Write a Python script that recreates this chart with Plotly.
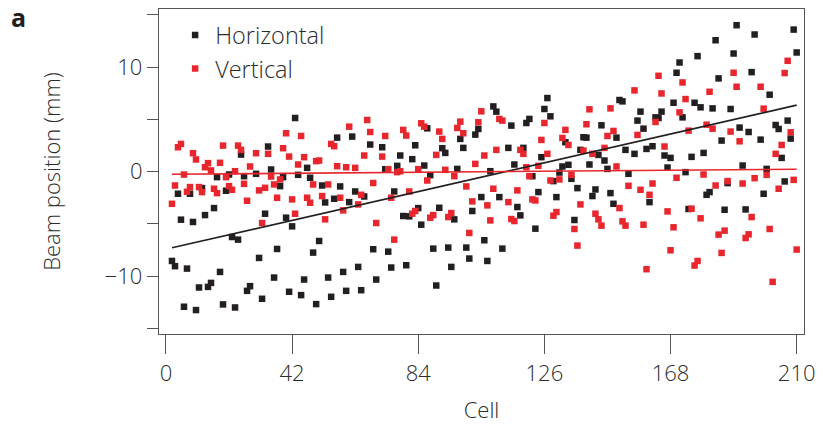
import plotly.graph_objects as go

# Horizontal beam position per cell (mm)
h_cell = [2, 3, 4, 5, 6, 7, 8, 9, 10, 11, 12, 13, 14, 15, 16, 17, 18, 19, 20, 21, 22, 23, 24, 25, 26, 27, 28,
          30, 31, 32, 33, 34, 35, 36, 37, 38, 39, 40, 41, 42, 43, 44, 45, 46, 47, 48, 49, 50, 51, 52, 53, 54,
          55, 56, 57, 58, 59, 60, 61, 62, 63, 64, 65, 66, 68, 69, 70, 72, 73, 74, 75, 76, 77, 78, 79, 80, 81,
          82, 83, 84, 85, 86, 87, 88, 89, 90, 91, 92, 93, 94, 95, 96, 97, 98, 99, 100, 101, 102, 103, 104, 105,
          106, 107, 108, 109, 110, 111, 112, 114, 115, 116, 117, 118, 119, 120, 121, 122, 123, 124, 125, 126,
          127, 128, 129, 130, 131, 132, 133, 134, 135, 136, 137, 138, 139, 140, 141, 142, 143, 144, 145, 146,
          147, 148, 149, 150, 151, 152, 153, 154, 156, 157, 158, 159, 160, 161, 162, 163, 164, 165, 166, 167,
          168, 169, 170, 171, 172, 173, 174, 175, 176, 177, 178, 179, 180, 181, 182, 183, 184, 185, 186, 187,
          188, 189, 190, 191, 192, 193, 194, 195, 196, 198, 199, 200, 201, 203, 204, 205, 206, 207, 208, 209, 210]
h_pos = [-8.56, -9.06, -2.13, -4.61, -12.94, -9.29, -2.13, -4.83, -13.26, -11.10, -1.59, -4.17, -11.04, -10.66,
         -3.50, -0.54, -9.61, -12.72, -1.84, -0.29, -6.27, -13.01, -6.52, 1.62, -0.45, -11.42, -10.97,
         -0.22, -8.27, -12.18, -4.04, 2.39, 0.19, -10.15, -7.41, -1.40, -0.54, -4.42, -11.51, -5.25, 5.12,
         -0.32, -11.83, -10.34, 0.35, -0.60, -7.76, -12.69, -6.65, -1.34, -2.96, -10.15, -11.99, -2.61, 3.24,
         -1.43, -9.61, -11.42, -2.93, 3.34, -1.91, -9.13, -11.36, -2.39, 2.58, -7.44, -10.34, 2.32, 0.22,
         -7.67, -9.19, -1.91, 0.54, 1.53, -4.26, -8.97, -4.29, 1.18, 2.51, -3.50, -5.09, 0.57, 4.13, -0.35,
         -7.38, -10.91, -3.47, 2.23, 1.78, -7.28, -9.13, -4.58, 0.25, 3.12, 2.26, -7.28, -8.33, -3.78, 3.53,
         4.07, -2.45, -6.58, -8.56, 0.03, 6.23, 5.73, -2.45, -7.38, 2.26, 4.39, 0.67, -3.40, -4.20, 2.26,
         4.64, 5.03, -0.45, -5.47, -1.97, 1.37, 5.98, 7.03, 5.28, -0.92, -2.45, -0.10, 0.48, 2.80, 0.64,
         -0.70, -4.64, -1.59, 2.07, 3.28, 3.24, 0.67, -2.35, -1.72, 1.59, 4.42, 1.05, 0.25, -2.07, -3.09,
         3.24, 6.84, 6.71, 2.07, -0.22, 1.69, 4.87, 5.73, 4.10, 2.16, -2.93, 2.42, 5.18, 5.12, 5.73, 1.53,
         0.38, 1.30, 6.58, 9.45, 10.43, 5.18, -0.06, -3.59, 1.40, 6.58, 11.04, 6.14, 1.78, -2.23, -1.97,
         6.04, 12.56, 8.91, 2.96, -3.66, -1.11, 5.98, 11.29, 14.00, 4.20, 0.57, -3.63, 3.78, 9.51, 13.11,
         3.05, -2.13, 0.25, 7.35, 4.45, 4.07, 1.30, -0.95, 4.87, 3.15, 13.58, 11.39]

# Vertical beam position per cell (mm)
v_cell = [2, 3, 4, 5, 6, 7, 8, 9, 10, 11, 12, 13, 14, 15, 16, 17, 18, 19, 20, 21, 22, 23, 24, 25, 26, 27, 28,
          30, 31, 32, 33, 34, 35, 36, 37, 38, 39, 40, 41, 42, 43, 44, 45, 46, 47, 48, 49, 50, 51, 52, 53, 54,
          55, 56, 57, 58, 59, 60, 61, 63, 64, 65, 66, 67, 68, 69, 70, 72, 73, 74, 75, 76, 77, 78, 79, 80, 81,
          82, 83, 84, 85, 86, 87, 88, 89, 90, 91, 92, 93, 94, 95, 96, 97, 98, 99, 100, 101, 102, 103, 104,
          105, 106, 107, 108, 109, 110, 111, 112, 114, 115, 116, 117, 118, 119, 120, 121, 122, 123, 124, 125,
          126, 127, 128, 129, 130, 131, 132, 133, 134, 135, 136, 137, 138, 139, 140, 141, 142, 143, 144, 145,
          146, 147, 148, 149, 150, 151, 152, 153, 154, 156, 157, 158, 159, 160, 161, 162, 163, 164, 165, 166,
          167, 168, 169, 170, 171, 172, 173, 174, 175, 176, 177, 178, 179, 180, 181, 182, 183, 184, 185, 186,
          187, 188, 189, 190, 191, 192, 193, 194, 195, 196, 198, 199, 200, 201, 202, 203, 204, 205, 206, 207,
          208, 209, 210]
v_pos = [-3.09, -1.34, 2.32, 2.64, -0.29, -1.94, -1.49, 1.75, 1.15, -1.49, -1.97, 0.41, 0.80, 0.10, -1.65,
         -2.07, 0.83, 2.48, -0.54, -1.40, -1.75, 0.03, 2.48, 2.07, -1.18, -2.80, 0.48,
         1.75, -1.81, -4.93, -1.56, 1.69, -0.48, -1.24, -2.51, -0.76, 2.23, 3.66, 1.43, -2.67, -4.04, 0.67,
         3.40, 1.37, -2.51, -2.99, -1.24, 0.99, 1.05, -2.35, -4.58, -1.24, 2.64, 2.42, 0.51, -2.51, -3.72,
         0.41, 4.29, 0.35, -3.15, -2.23, 1.53, 4.93, 3.78, -1.10, -4.93, 1.43, 3.40, 0.22, -2.51, -6.52,
         -0.06, 0.03, 3.98, 3.44, -1.91, -4.04, -3.78, 0.22, 4.61, 4.29, -0.86, -4.42, -4.17, 1.59, 3.82,
         3.12, 0.16, -4.36, -3.98, -0.45, 4.17, 4.77, 3.66, -1.43, -5.88, -2.86, 0.73, 4.71, 5.76, 1.53,
         -3.24, -4.68, -1.65, 2.07, 5.03, 4.87, -2.93, -4.55, -4.74, -1.81, 2.07, 1.69, 0.41, -0.45, -2.67,
         -2.77, 0.54, 3.02, 4.64, 1.69, -0.86, -4.23, -3.88, -0.76, 3.21, 3.98, 2.54, -0.32, -5.50, -7.09,
         -3.15, 2.00, 4.52, 5.95, 1.69, -4.04, -4.58, -5.18, 2.26, 3.40, 6.04, 3.88, 0.48, -3.50, -4.77,
         -5.18, -1.37, 7.76, 3.50, -1.75, -5.09, -9.35, -2.23, -1.15, 4.74, 9.16, 7.47, 2.39, -3.82, -7.54,
         -5.34, -0.60, 5.66, 8.52, 6.93, 3.91, -3.56, -9.00, -8.56, -4.48, -0.29, 4.48, 7.63, 4.10, -1.34,
         -6.04, -7.79, -5.66, -0.92, 3.82, 9.45, 8.11, 2.89, -1.15, -6.36, -6.01, -4.36, -0.64, 8.11, 6.01,
         -0.32, -5.50, -10.56, 1.69, -1.65, 2.54, 9.42, 10.59, 3.75, -0.80, -7.47]

# Linear fits (end points over the fitted cell span)
fit_cell = [2, 210]
h_fit = [-7.3, 6.35]
v_fit = [-0.27, 0.22]

x_ticks = [0, 42, 84, 126, 168, 210]
y_ticks = [-15, -10, -5, 0, 5, 10, 15]
y_tick_text = ["", "\u221210", "", "0", "", "10", ""]

BLACK = "#231f20"
RED = "#e8262d"
TEXT = "#2b2b2b"
AXIS = "#555555"
FONT = "Open Sans, Noto Sans, sans-serif"
LIGHT = 300

fig = go.Figure()
fig.add_trace(go.Scatter(x=h_cell, y=h_pos, mode="markers", name="Horizontal",
                         marker=dict(symbol="square", size=6.5, color=BLACK)))
fig.add_trace(go.Scatter(x=v_cell, y=v_pos, mode="markers", name="Vertical",
                         marker=dict(symbol="square", size=6.5, color=RED)))
fig.add_trace(go.Scatter(x=fit_cell, y=h_fit, mode="lines", showlegend=False,
                         line=dict(color=BLACK, width=1.6)))
fig.add_trace(go.Scatter(x=fit_cell, y=v_fit, mode="lines", showlegend=False,
                         line=dict(color=RED, width=1.6)))

fig.update_layout(
    width=823, height=429,
    margin=dict(l=159, r=15, t=8, b=95),
    paper_bgcolor="white", plot_bgcolor="white",
    font=dict(family=FONT, size=22, color=TEXT, weight=LIGHT),
    showlegend=True,
    legend=dict(x=0.025, y=0.987, xanchor="left", yanchor="top",
                bgcolor="rgba(0,0,0,0)", borderwidth=0, tracegroupgap=0,
                font=dict(family=FONT, size=23.5, color=TEXT, weight=LIGHT)),
    annotations=[dict(text="<b>a</b>", xref="paper", yref="paper",
                      x=-0.232, y=0.974, xanchor="left", yanchor="middle",
                      showarrow=False, font=dict(family=FONT, size=25, color="#231f20"))],
)

fig.update_xaxes(
    range=[-2.32, 212.44], tickmode="array", tickvals=x_ticks,
    ticks="outside", ticklen=19, tickwidth=1.2, tickcolor=AXIS,
    showline=True, linecolor=AXIS, linewidth=1.3, mirror=True,
    showgrid=False, zeroline=False,
    title=dict(text="Cell", font=dict(family=FONT, size=22, color=TEXT, weight=LIGHT), standoff=17),
    tickfont=dict(family=FONT, size=22, color=TEXT, weight=LIGHT),
)
fig.update_yaxes(
    range=[-15.55, 15.55], tickmode="array", tickvals=y_ticks, ticktext=y_tick_text,
    ticks="outside", ticklen=11, tickwidth=1.2, tickcolor=AXIS,
    showline=True, linecolor=AXIS, linewidth=1.3, mirror=True,
    showgrid=False, zeroline=False,
    title=dict(text="Beam position (mm)", font=dict(family=FONT, size=22, color=TEXT, weight=LIGHT),
               standoff=38),
    tickfont=dict(family=FONT, size=22, color=TEXT, weight=LIGHT),
)

fig.write_html("out.html")
